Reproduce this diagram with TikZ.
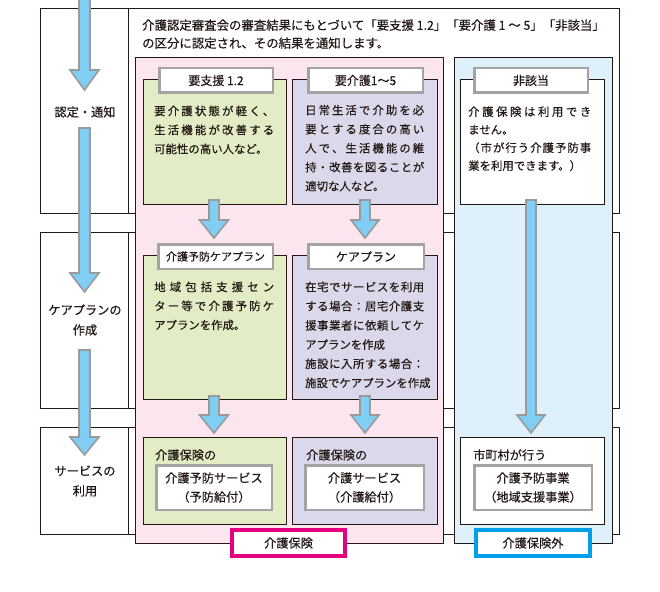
\documentclass[tikz,border=0pt]{standalone}
\usepackage{fontspec}
\setmainfont{Noto Sans CJK JP}[UprightFeatures={FakeBold=0.35}]
\definecolor{ink}{HTML}{231815}
\definecolor{pinkbg}{HTML}{FBE5EE}
\definecolor{bluebg}{HTML}{DEF0FA}
\definecolor{greenbg}{HTML}{E2EDC5}
\definecolor{purplebg}{HTML}{DCD8EB}
\definecolor{arrowfill}{HTML}{80CEF3}
\definecolor{arrowedge}{HTML}{9A9A9A}
\definecolor{titleedge}{HTML}{A3A3A3}
\definecolor{kmagenta}{HTML}{E4007F}
\definecolor{kcyan}{HTML}{00A0E9}
\def\sprA#1{#1\sprB}
\def\sprB#1{\ifx#1\relax\else\hfil#1\expandafter\sprB\fi}
\newcommand\spr[2]{\makebox[#1][s]{\sprA#2\relax}}
\newcommand\bodytext[3]{\parbox[t]{#1}{\fontsize{11.4}{#2}\selectfont\raggedright #3}}
\newcommand\blockarrow[6]{%
  \draw[blockar] (#1-#5,#2) -- (#1-#5,#3) -- (#1-#6,#3) -- (#1,#4) -- (#1+#6,#3) -- (#1+#5,#3) -- (#1+#5,#2) -- cycle;}
\tikzset{
  rowbox/.style={draw=ink, line width=0.9pt, fill=white},
  panel/.style={draw=ink, line width=0.9pt},
  gbox/.style={draw=ink, line width=0.9pt, fill=greenbg, inner sep=0pt},
  pbox/.style={draw=ink, line width=0.9pt, fill=purplebg, inner sep=0pt},
  wbox/.style={draw=ink, line width=0.9pt, fill=white, inner sep=0pt},
  tbox/.style={draw=titleedge, line width=2.5pt, fill=white, inner sep=0pt, minimum height=24.5pt, text=ink, font=\fontsize{12}{14}\selectfont},
  ibox/.style={draw=titleedge, line width=2.5pt, fill=white, inner sep=0pt, minimum height=44.5pt, align=center, text=ink, font=\fontsize{12.2}{19}\selectfont},
  bodytxt/.style={anchor=base west, inner sep=0pt, text=ink},
  rowlabel/.style={align=center, inner sep=0pt, text=ink, font=\fontsize{12.2}{20}\selectfont},
  labbox/.style={line width=4pt, fill=white, inner sep=0pt, minimum height=26pt, text=ink, font=\fontsize{12.2}{14}\selectfont},
  blockar/.style={draw=arrowedge, line width=1.6pt, fill=arrowfill, line join=miter},
}
\begin{document}
\begin{tikzpicture}[x=1pt,y=-1pt]
\useasboundingbox (0,0) rectangle (660,591);
% row frames
\draw[rowbox] (40,8) rectangle (619,213);
\draw[ink, line width=0.9pt] (128,8) -- (128,213);
\draw[rowbox] (40,232) rectangle (619,408);
\draw[ink, line width=0.9pt] (128,232) -- (128,408);
\draw[rowbox] (40,427) rectangle (619,534);
\draw[ink, line width=0.9pt] (128,427) -- (128,534);
% top text
\node[bodytxt] (top) at (142,29.8) {\parbox[t]{480pt}{\fontsize{12.4}{18}\selectfont\raggedright 介護認定審査会の審査結果にもとづいて「要支援 1.2」「要介護 1 ～ 5」「非該当」\\の区分に認定され、その結果を通知します。}};
% panels
\draw[panel, fill=pinkbg] (135,57) rectangle (443,543);
\draw[panel, fill=bluebg] (454,57) rectangle (612,543);
% left labels
\node[rowlabel] (l1) at (85,112) {認定・通知};
\node[rowlabel] (l2) at (85,320) {ケアプランの\\作成};
\node[rowlabel] (l3) at (85,481) {サービスの\\利用};
% row 1 boxes
\node[gbox, minimum width=143pt, minimum height=125pt] (g1) at (214.5,141.5) {};
\node[pbox, minimum width=145pt, minimum height=125pt] (p1) at (364.5,141.5) {};
\node[wbox, minimum width=144pt, minimum height=125pt] (b1) at (532,141.5) {};
\node[tbox, minimum width=113.5pt] (g1t) at (216,80.5) {要支援 1.2};
\node[tbox, minimum width=114.5pt] (p1t) at (365.5,80.5) {要介護1～5};
\node[tbox, minimum width=113.5pt] (b1t) at (531,80.5) {非該当};
\node[bodytxt] (g1x) at (154,115.3) {\bodytext{125pt}{19}{\spr{120pt}{要介護状態が軽く、}\\\spr{120pt}{生活機能が改善する}\\可能性の高い人など。}};
\node[bodytxt] (p1x) at (305,114.5) {\bodytext{125pt}{19}{\spr{119pt}{日常生活で介助を必}\\\spr{119pt}{要とする度合の高い}\\\spr{119pt}{人で、生活機能の維}\\\spr{119pt}{持・改善を図ることが}\\適切な人など。}};
\node[bodytxt] (b1x) at (468,116) {\bodytext{130pt}{18}{\spr{123pt}{介護保険は利用でき}\\ません。\\\spr{123pt}{（市が行う介護予防事}\\業を利用できます。）}};
% row 2 boxes
\node[gbox, minimum width=143pt, minimum height=144pt] (g2) at (214.5,327) {};
\node[pbox, minimum width=145pt, minimum height=144pt] (p2) at (364.5,327) {};
\node[tbox, minimum width=114.5pt, font=\fontsize{11}{13}\selectfont] (g2t) at (215.5,256.5) {介護予防ケアプラン};
\node[tbox, minimum width=115.5pt] (p2t) at (366,256.5) {ケアプラン};
\node[bodytxt] (g2x) at (154,291.3) {\bodytext{125pt}{19}{\spr{120pt}{地域包括支援セン}\\\spr{120pt}{ター等で介護予防ケ}\\アプランを作成。}};
\node[bodytxt] (p2x) at (305,291.3) {\bodytext{130pt}{19.2}{\spr{119pt}{在宅でサービスを利用}\\\spr{119pt}{する場合：居宅介護支}\\\spr{119pt}{援事業者に依頼してケ}\\アプランを作成\\\spr{119pt}{施設に入所する場合：}\\施設でケアプランを作成}};
% row 3 boxes
\node[gbox, minimum width=143pt, minimum height=87pt] (g3) at (214.5,480.5) {};
\node[pbox, minimum width=145pt, minimum height=87pt] (p3) at (364.5,480.5) {};
\node[wbox, minimum width=144pt, minimum height=87pt] (b3) at (532,480.5) {};
\node[bodytxt, font=\fontsize{12.2}{14}\selectfont] (g3h) at (155,459.6) {介護保険の};
\node[bodytxt, font=\fontsize{12.2}{14}\selectfont] (p3h) at (306,459.6) {介護保険の};
\node[bodytxt, font=\fontsize{12.2}{14}\selectfont] (b3h) at (473,459.6) {市町村が行う};
\node[ibox, minimum width=115.5pt] (g3i) at (214,487.5) {介護予防サービス\\（予防給付）};
\node[ibox, minimum width=118.5pt] (p3i) at (364.5,487.5) {介護サービス\\（介護給付）};
\node[ibox, minimum width=117.5pt] (b3i) at (533,487.5) {介護予防事業\\（地域支援事業）};
% category labels
\node[labbox, draw=kmagenta, minimum width=113pt] (k1) at (288.5,543) {介護保険};
\node[labbox, draw=kcyan, minimum width=114pt] (k2) at (533,543) {介護保険外};
% left main arrows
\blockarrow{84.5}{-5}{70}{90}{5.5}{14.5}
\blockarrow{84.5}{128}{273}{292}{5.5}{14.5}
\blockarrow{84.5}{350}{437}{455}{5.5}{14.5}
% small arrows
\blockarrow{214}{200}{220}{238}{5}{14.5}
\blockarrow{365}{200}{220}{238}{5}{14}
\blockarrow{214}{396}{415}{433}{5}{14.5}
\blockarrow{365}{396}{415}{433}{5}{14}
\blockarrow{531}{200}{415}{433}{5}{14}
\end{tikzpicture}
\end{document}
